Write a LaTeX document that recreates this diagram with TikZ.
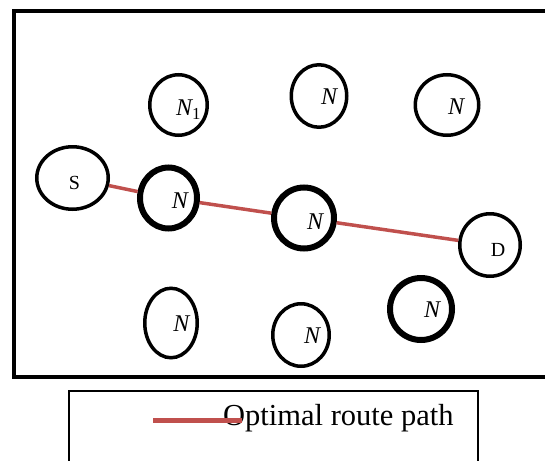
\documentclass[tikz,border=0pt]{standalone}
\usepackage{fontspec}
\setmainfont{Liberation Serif}
\usetikzlibrary{shapes.geometric}
\definecolor{routered}{RGB}{192,80,77}

\begin{document}
\begin{tikzpicture}[x=1pt, y=-1pt,
	relay/.style={ellipse, draw, line width=3.5pt, inner sep=0pt},
	hop/.style={relay, line width=6pt},
	tag/.style={font=\fontsize{24}{24}\selectfont\itshape, inner sep=0pt},
	route/.style={draw=routered, line width=3.5pt}]

	\useasboundingbox (0,0) rectangle (545,460);

	% field border
	\draw[line width=4pt] (14,11) rectangle (549,377);

	% source and destination
	\node[relay, minimum width=71.5, minimum height=62.5,
		label={[tag, font=\fontsize{20}{20}\selectfont, xshift=2pt, yshift=-5pt]center:S}] (src) at (72.5,178) {};
	\node[relay, minimum width=60.5, minimum height=62.5,
		label={[tag, font=\fontsize{20}{20}\selectfont, xshift=8pt, yshift=-5pt]center:D}] (dst) at (490,245) {};

	% idle nodes
	\node[relay, minimum width=57.5, minimum height=60.5,
		label={[tag, xshift=10pt, yshift=-5pt]center:N\textsubscript{\upshape 1}}] (n1) at (178.5,105) {};
	\node[relay, minimum width=55.5, minimum height=62.5,
		label={[tag, xshift=10pt, yshift=-1pt]center:N}] (n2) at (319,96) {};
	\node[relay, minimum width=63.5, minimum height=60.5,
		label={[tag, xshift=9pt, yshift=-2pt]center:N}] (n3) at (447,105) {};
	\node[relay, minimum width=52.5, minimum height=69.5,
		label={[tag, xshift=10.5pt, yshift=-1pt]center:N}] (b1) at (171,323) {};
	\node[relay, minimum width=56.5, minimum height=62.5,
		label={[tag, xshift=11pt, yshift=-1pt]center:N}] (b2) at (301,335) {};

	% nodes on the route (bold rims)
	\node[hop, minimum width=57, minimum height=61,
		label={[tag, xshift=11.5pt, yshift=-3pt]center:N}] (p1) at (168.5,198) {};
	\node[hop, minimum width=60, minimum height=61,
		label={[tag, xshift=11pt, yshift=-3.5pt]center:N}] (p2) at (304,218) {};
	\node[hop, minimum width=62, minimum height=62,
		label={[tag, xshift=11pt, yshift=-1pt]center:N}] (b3) at (421,309) {};

	% optimal route
	\draw[route] (src) -- (p1) -- (p2) -- (dst);

	% legend
	\draw[line width=1.5pt] (69,391) rectangle (478,475);
	\node[anchor=base west, inner sep=0pt, font=\fontsize{30.5}{36}\selectfont] (keytxt) at (223,425) {Optimal route path};
	\coordinate (keyL) at (153,420);
	\coordinate (keyR) at (242,420);
	\draw[draw=routered, line width=5pt] (keyL) -- (keyR);

\end{tikzpicture}
\end{document}
